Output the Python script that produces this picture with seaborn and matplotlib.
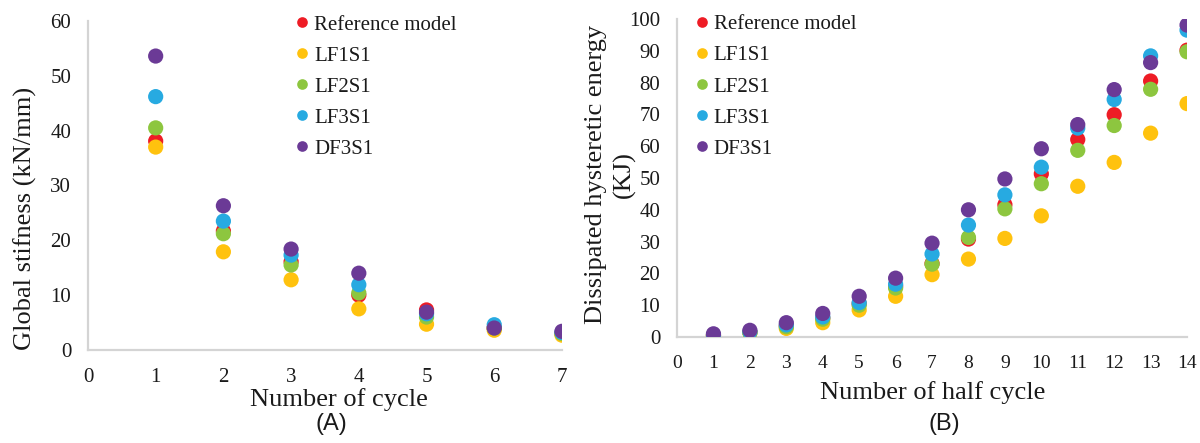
import matplotlib
matplotlib.use("Agg")
import matplotlib.pyplot as plt
import numpy as np
import pandas as pd
import seaborn as sns

# Global stiffness per cycle (kN/mm)
cycles = [1, 2, 3, 4, 5, 6, 7]
stiff_ref = [38.1, 21.7, 16.1, 10.0, 7.3, 4.0, 3.0]
stiff_lf1s1 = [37.0, 17.9, 12.8, 7.5, 4.7, 3.6, 2.7]
stiff_lf2s1 = [40.5, 21.2, 15.5, 10.4, 6.0, 4.0, 3.0]
stiff_lf3s1 = [46.2, 23.5, 17.3, 11.9, 6.6, 4.6, 3.2]
stiff_df3s1 = [53.6, 26.3, 18.4, 14.0, 6.9, 4.0, 3.4]

# Dissipated hysteretic energy per half cycle (KJ)
half_cycles = [1, 2, 3, 4, 5, 6, 7, 8, 9, 10, 11, 12, 13, 14]
energy_ref = [0.5, 1.5, 3.5, 6.0, 10.5, 16.0, 23.1, 30.8, 41.6, 51.3, 62.1, 69.9, 80.5, 90.2]
energy_lf1s1 = [0.4, 1.3, 2.7, 4.5, 8.5, 12.8, 19.6, 24.5, 31.0, 38.1, 47.4, 54.9, 64.1, 73.4]
energy_lf2s1 = [0.5, 1.4, 3.2, 5.6, 10.0, 15.4, 22.9, 31.3, 40.3, 48.2, 58.7, 66.5, 77.9, 89.7]
energy_lf3s1 = [0.6, 1.6, 3.8, 6.3, 10.8, 16.6, 26.1, 35.2, 44.7, 53.4, 65.7, 74.7, 88.4, 96.5]
energy_df3s1 = [1.0, 2.1, 4.5, 7.4, 12.8, 18.5, 29.5, 40.0, 49.7, 59.2, 66.8, 77.8, 86.3, 98.1]

models = ["Reference model", "LF1S1", "LF2S1", "LF3S1", "DF3S1"]
colors = ["#EE1C25", "#FFC20E", "#8DC63F", "#27AAE1", "#6B3A96"]

stiff_df = pd.concat([
    pd.DataFrame({"x": cycles, "y": v, "model": m})
    for m, v in zip(models, [stiff_ref, stiff_lf1s1, stiff_lf2s1, stiff_lf3s1, stiff_df3s1])
])
energy_df = pd.concat([
    pd.DataFrame({"x": half_cycles, "y": v, "model": m})
    for m, v in zip(models, [energy_ref, energy_lf1s1, energy_lf2s1, energy_lf3s1, energy_df3s1])
])

sns.set_theme(style="white")
plt.rcParams["font.family"] = ["Liberation Serif", "DejaVu Serif"]

fig = plt.figure(figsize=(12, 4.43), dpi=100)
ax1 = fig.add_axes([0.0733, 0.210, 0.395, 0.7427])
ax2 = fig.add_axes([0.5642, 0.2393, 0.425, 0.7178])

palette = dict(zip(models, colors))
text_color = "#1a1a1a"

for ax, df in [(ax1, stiff_df), (ax2, energy_df)]:
    sns.scatterplot(data=df, x="x", y="y", hue="model", hue_order=models,
                    palette=palette, s=120, edgecolor="none", linewidth=0,
                    ax=ax, zorder=3)
    for side in ["top", "right"]:
        ax.spines[side].set_visible(False)
    for side in ["left", "bottom"]:
        ax.spines[side].set_color("#D4D4D4")
        ax.spines[side].set_linewidth(1.6)
    ax.tick_params(axis="both", length=0, labelsize=15, colors=text_color)
    ax.tick_params(axis="x", pad=13)
    ax.tick_params(axis="y", pad=12)
    ax.grid(False)
    leg = ax.legend(frameon=False, fontsize=15, markerscale=0.7,
                    handlelength=0.8, handletextpad=0.15, labelspacing=0.55,
                    borderpad=0.0, borderaxespad=0.0, loc="upper left")
    for t in leg.get_texts():
        t.set_color(text_color)

# Panel A
ax1.set_xlim(0, 7)
ax1.set_ylim(0, 60)
ax1.set_xticks(range(0, 8))
ax1.set_yticks(range(0, 61, 10))
ax1.set_xlabel("Number of cycle", fontsize=19, color=text_color)
ax1.xaxis.set_label_coords(0.53, -0.152)
ax1.xaxis.label.set_va("center")
ax1.set_ylabel("Global stifness (kN/mm)", fontsize=19, color=text_color)
ax1.yaxis.label.set_va("center")
ax1.yaxis.set_label_coords(-0.133, 0.40)
ax1.get_legend().set_bbox_to_anchor((0.435, 1.018))

# Panel B
ax2.set_xlim(0, 14)
ax2.set_ylim(0, 100)
ax2.set_xticks(range(0, 15))
ax2.set_yticks(range(0, 101, 10))
ax2.tick_params(axis="x", labelsize=14)
ax2.set_xlabel("Number of half cycle", fontsize=19, color=text_color)
ax2.xaxis.set_label_coords(0.502, -0.175)
ax2.xaxis.label.set_va("center")
ax2.set_ylabel("Dissipated hysteretic energy\n(KJ)", fontsize=19,
               color=text_color, linespacing=1.3)
ax2.yaxis.label.set_va("center")
ax2.yaxis.set_label_coords(-0.131, 0.51)
ax2.get_legend().set_bbox_to_anchor((0.033, 1.013))

fig.text(331 / 1200, 1 - 424 / 443, "(A)", fontsize=17, ha="center", va="center",
         family=["Liberation Sans", "DejaVu Sans"], color=text_color)
fig.text(944 / 1200, 1 - 424 / 443, "(B)", fontsize=17, ha="center", va="center",
         family=["Liberation Sans", "DejaVu Sans"], color=text_color)

fig.savefig("out.png", dpi=100)
